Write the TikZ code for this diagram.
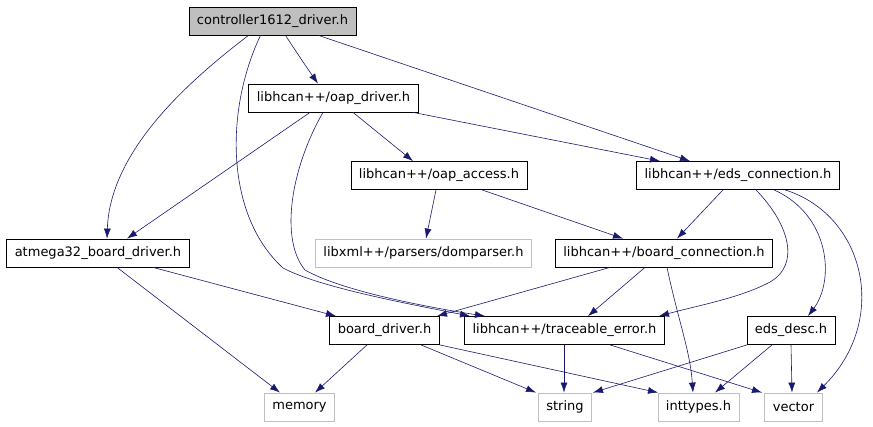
\documentclass[tikz,border=0pt]{standalone}
\usepackage{fontspec}
\setmainfont{DejaVu Sans}
\usepackage{tikz}
\usetikzlibrary{arrows.meta}
\definecolor{edgeblue}{HTML}{191970}
\definecolor{boxgray}{HTML}{BFBFBF}

\begin{document}
\begin{tikzpicture}[x=1pt,y=-1pt,
    file/.style={draw=black,line width=0.8pt,minimum height=28pt,inner xsep=8pt,font=\fontsize{13}{15}\selectfont},
    sysfile/.style={file,draw=boxgray},
    inc/.style={draw=edgeblue,line width=0.6pt,-{Latex[length=10pt,width=7pt]}}]
        \useasboundingbox (0,0) rectangle (873,427);

        \node[file,fill=boxgray] (ctrl) at (272.5,21) {controller1612\_driver.h};
        \node[file] (oapd) at (333.5,98) {libhcan++/oap\_driver.h};
        \node[file] (oapa) at (439,175.5) {libhcan++/oap\_access.h};
        \node[file] (eds) at (738,175.5) {libhcan++/eds\_connection.h};
        \node[sysfile] (dom) at (423.5,253) {libxml++/parsers/domparser.h};
        \node[file] (bc) at (664,253) {libhcan++/board\_connection.h};
        \node[file] (atm) at (98,253) {atmega32\_board\_driver.h};
        \node[file] (bd) at (384.5,330.5) {board\_driver.h};
        \node[file] (te) at (564.5,330.5) {libhcan++/traceable\_error.h};
        \node[file] (ed) at (791,330.5) {eds\_desc.h};
        \node[sysfile] (mem) at (299.5,407) {memory};
        \node[sysfile] (str) at (565,407) {string};
        \node[sysfile] (int) at (698.5,407) {inttypes.h};
        \node[sysfile] (vec) at (793.5,407) {vector};

        % controller1612_driver.h
        \draw[inc] ([xshift=-24pt]ctrl.south) .. controls (190,80) and (110,150) .. ([xshift=9pt]atm.north);
        \draw[inc] ([xshift=13pt]ctrl.south) .. controls (295,50) and (305,65) .. ([xshift=-15.5pt]oapd.north);
        \draw[inc] ([xshift=46pt]ctrl.south) -- ([xshift=-48pt]eds.north);
        \draw[inc] ([xshift=-12pt]ctrl.south) .. controls (225,110) and (225,215) .. (283,268) .. controls (320,288) and (420,306) .. ([xshift=-94.5pt]te.north);

        % oap_driver.h
        \draw[inc] ([xshift=-23.5pt]oapd.south) -- ([xshift=29pt]atm.north);
        \draw[inc] ([xshift=19.5pt]oapd.south) -- ([xshift=-26pt]oapa.north);
        \draw[inc] ([xshift=79.5pt]oapd.south) -- ([xshift=-78pt]eds.north);
        \draw[inc] ([xshift=-10.5pt]oapd.south) .. controls (290,170) and (280,240) .. (305,270) .. controls (340,290) and (420,306) .. ([xshift=-79.5pt]te.north);

        % oap_access.h
        \draw[inc] ([xshift=-3pt]oapa.south) -- ([xshift=2.5pt]dom.north);
        \draw[inc] ([xshift=43pt]oapa.south) -- ([xshift=-41pt]bc.north);

        % eds_connection.h
        \draw[inc] ([xshift=-15pt]eds.south) -- ([xshift=13pt]bc.north);
        \draw[inc] ([xshift=18pt]eds.south) .. controls (790,225) and (800,265) .. (770,282) .. controls (740,298) and (700,305) .. ([xshift=94.5pt]te.north);
        \draw[inc] ([xshift=36pt]eds.south) .. controls (830,215) and (835,280) .. ([xshift=17pt]ed.north);
        \draw[inc] ([xshift=47pt]eds.south) .. controls (865,215) and (890,320) .. ([xshift=23.5pt]vec.north);

        % board_connection.h
        \draw[inc] ([xshift=-54pt]bc.south) -- ([xshift=52.5pt]bd.north);
        \draw[inc] ([xshift=-19pt]bc.south) -- ([xshift=23.5pt]te.north);
        \draw[inc] ([xshift=3pt]bc.south) .. controls (678,320) and (690,350) .. ([xshift=-5.5pt]int.north);

        % atmega32_board_driver.h
        \draw[inc] ([xshift=55pt]atm.south) -- ([xshift=-48.5pt]bd.north);
        \draw[inc] ([xshift=19pt]atm.south) -- ([xshift=-19.5pt]mem.north);

        % board_driver.h
        \draw[inc] ([xshift=-17.5pt]bd.south) -- ([xshift=15.5pt]mem.north);
        \draw[inc] ([xshift=36.5pt]bd.south) -- ([xshift=-29pt]str.north);
        \draw[inc] (bd.south east) -- ([xshift=-40.5pt]int.north);

        % traceable_error.h
        \draw[inc] ([xshift=-0.5pt]te.south) -- ([xshift=-1pt]str.north);
        \draw[inc] ([xshift=45.5pt]te.south) -- ([xshift=-31.5pt]vec.north);

        % eds_desc.h
        \draw[inc] ([xshift=-44pt]ed.south) -- ([xshift=28pt]str.north);
        \draw[inc] ([xshift=-19pt]ed.south) -- ([xshift=16.5pt]int.north);
        \draw[inc] (ed.south) -- ([xshift=-1.5pt]vec.north);
      \end{tikzpicture}
\end{document}
